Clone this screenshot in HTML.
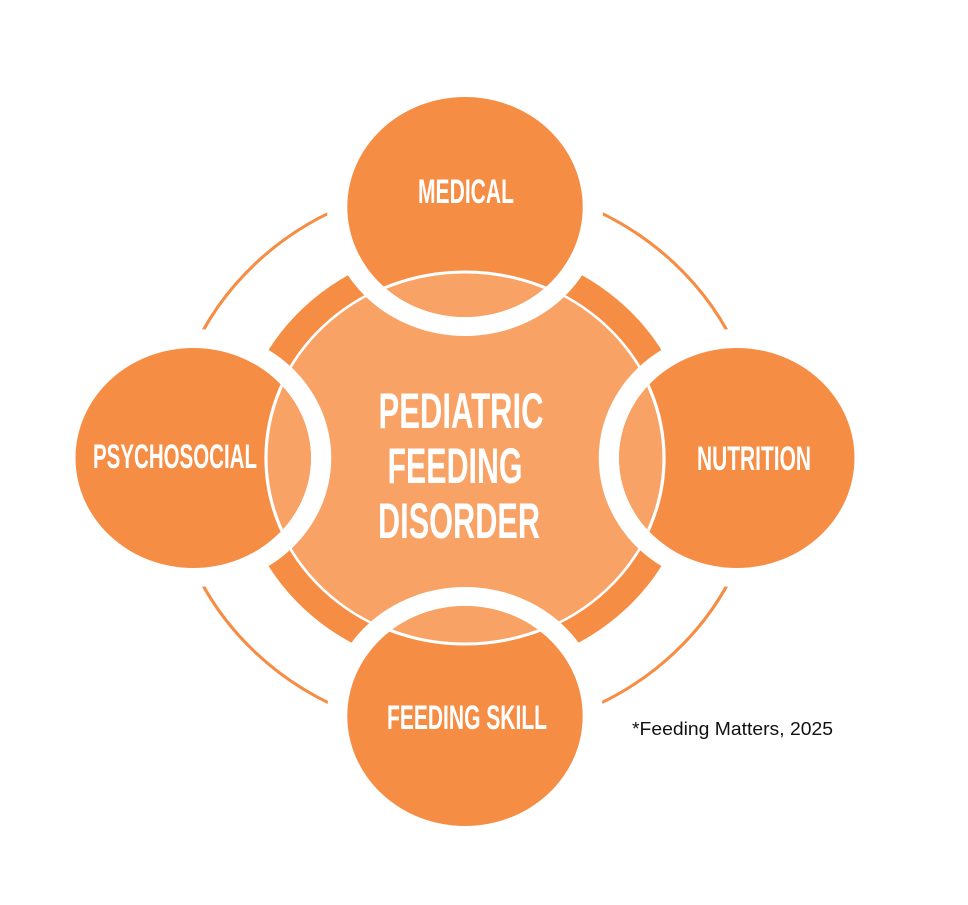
<!DOCTYPE html>
<html><head><meta charset="utf-8"><style>
html,body{margin:0;padding:0;background:#fff;width:968px;height:905px;overflow:hidden}
svg{display:block}
.t{font-family:"Liberation Sans",sans-serif;font-weight:bold;fill:#fff}
</style></head><body>
<svg width="968" height="905" viewBox="0 0 968 905" xmlns="http://www.w3.org/2000/svg">
<defs>
<clipPath id="sat">
<circle cx="0" cy="-251" r="110"/>
<circle cx="0" cy="258" r="110"/>
<circle cx="-254" cy="0" r="110"/>
<circle cx="254" cy="0" r="110"/>
</clipPath>
</defs>
<g transform="matrix(1.07 0 0 1 465 458)">
<circle cx="0" cy="0" r="276" fill="none" stroke="#F68D45" stroke-width="3"/>
<circle cx="0" cy="0" r="200.5" fill="none" stroke="#F68D45" stroke-width="25"/>
<circle cx="0" cy="0" r="185.5" fill="#F8A266"/>
<g fill="#fff">
<circle cx="0" cy="-251" r="129"/>
<circle cx="0" cy="258" r="129"/>
<circle cx="-254" cy="0" r="129"/>
<circle cx="254" cy="0" r="129"/>
</g>
<g fill="#F68D45">
<circle cx="0" cy="-251" r="110"/>
<circle cx="0" cy="258" r="110"/>
<circle cx="-254" cy="0" r="110"/>
<circle cx="254" cy="0" r="110"/>
</g>
<g clip-path="url(#sat)">
<circle cx="0" cy="0" r="186" fill="#F8A266" stroke="#fff" stroke-width="3"/>
</g>
</g>
<text class="t" x="466" y="203" font-size="34" text-anchor="middle" textLength="96" lengthAdjust="spacingAndGlyphs">MEDICAL</text>
<text class="t" x="175" y="468" font-size="34" text-anchor="middle" textLength="164" lengthAdjust="spacingAndGlyphs">PSYCHOSOCIAL</text>
<text class="t" x="754" y="470" font-size="34" text-anchor="middle" textLength="114" lengthAdjust="spacingAndGlyphs">NUTRITION</text>
<text class="t" x="467" y="729" font-size="34" text-anchor="middle" textLength="160" lengthAdjust="spacingAndGlyphs">FEEDING SKILL</text>
<text class="t" x="461" y="428" font-size="50" text-anchor="middle" textLength="165" lengthAdjust="spacingAndGlyphs">PEDIATRIC</text>
<text class="t" x="455" y="483" font-size="50" text-anchor="middle" textLength="135" lengthAdjust="spacingAndGlyphs">FEEDING</text>
<text class="t" x="459" y="538" font-size="50" text-anchor="middle" textLength="162" lengthAdjust="spacingAndGlyphs">DISORDER</text>
<text x="632" y="735" font-family="Liberation Sans, sans-serif" font-size="18" fill="#111" textLength="201" lengthAdjust="spacingAndGlyphs">*Feeding Matters, 2025</text>
</svg>
</body></html>
